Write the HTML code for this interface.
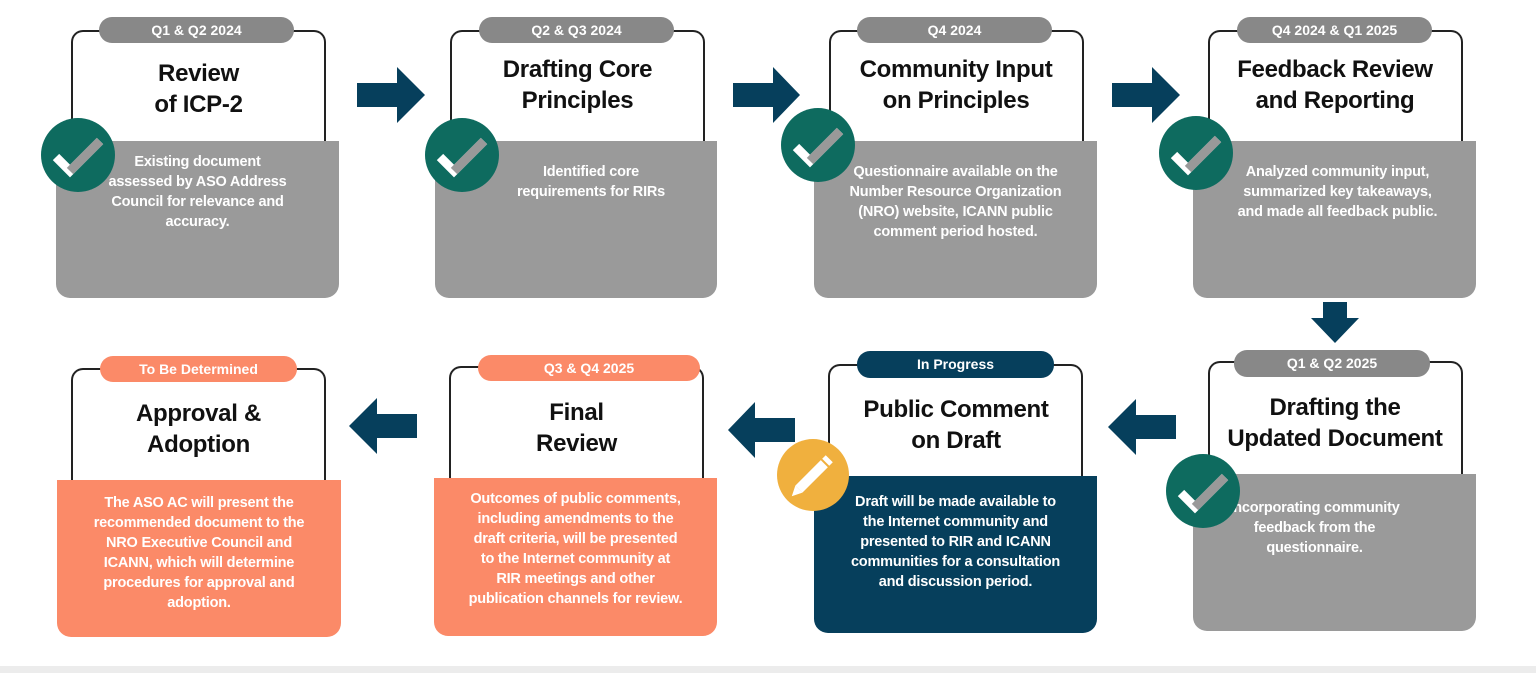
<!DOCTYPE html>
<html><head><meta charset="utf-8"><style>
*{margin:0;padding:0;box-sizing:border-box}
body{width:1536px;height:673px;background:#fff;position:relative;overflow:hidden;font-family:"Liberation Sans",sans-serif}
.a{position:absolute}
.frame{position:absolute;border:2px solid #222;border-bottom:none;border-radius:12px 12px 0 0}
.pill{position:absolute;height:26px;border-radius:13px;color:#fff;font-size:14px;font-weight:bold;text-align:center;line-height:26px}
.title{position:absolute;text-align:center;font-size:24px;font-weight:bold;line-height:31px;color:#111;letter-spacing:-0.3px}
.box{position:absolute;border-radius:0 0 14px 14px;color:#fff;font-size:14.5px;font-weight:bold;text-align:center;line-height:20px;white-space:nowrap;letter-spacing:-0.2px}
.g{background:#9a9a9a}.gp{background:#888}
.n{background:#063f5c}.s{background:#fb8a68}
</style></head><body>

<div class="frame" style="left:71px;top:30px;width:255px;height:112px"></div>
<div class="pill gp" style="left:99px;top:17px;width:195px">Q1 &amp; Q2 2024</div>
<div class="title" style="left:71px;top:58px;width:255px">Review<br>of ICP-2</div>
<div class="box g" style="left:56px;top:141px;width:283px;height:157px;padding:11px 0 0 0">Existing document<br>assessed by ASO Address<br>Council for relevance and<br>accuracy.</div>

<div class="frame" style="left:450px;top:30px;width:255px;height:112px"></div>
<div class="pill gp" style="left:479px;top:17px;width:195px">Q2 &amp; Q3 2024</div>
<div class="title" style="left:450px;top:54px;width:255px">Drafting Core<br>Principles</div>
<div class="box g" style="left:435px;top:141px;width:282px;height:157px;padding:21px 0 0 30px">Identified core<br>requirements for RIRs</div>

<div class="frame" style="left:829px;top:30px;width:255px;height:112px"></div>
<div class="pill gp" style="left:857px;top:17px;width:195px">Q4 2024</div>
<div class="title" style="left:820px;top:54px;width:272px">Community Input<br>on Principles</div>
<div class="box g" style="left:814px;top:141px;width:283px;height:157px;padding:21px 0 0 0">Questionnaire available on the<br>Number Resource Organization<br>(NRO) website, ICANN public<br>comment period hosted.</div>

<div class="frame" style="left:1208px;top:30px;width:255px;height:112px"></div>
<div class="pill gp" style="left:1237px;top:17px;width:195px">Q4 2024 &amp; Q1 2025</div>
<div class="title" style="left:1200px;top:54px;width:270px">Feedback Review<br>and Reporting</div>
<div class="box g" style="left:1193px;top:141px;width:283px;height:157px;padding:21px 0 0 6px">Analyzed community input,<br>summarized key takeaways,<br>and made all feedback public.</div>

<div class="frame" style="left:71px;top:368px;width:255px;height:113px"></div>
<div class="pill s" style="left:100px;top:356px;width:197px">To Be Determined</div>
<div class="title" style="left:71px;top:398px;width:255px">Approval &amp;<br>Adoption</div>
<div class="box s" style="left:57px;top:480px;width:284px;height:157px;padding:13px 0 0 0">The ASO AC will present the<br>recommended document to the<br>NRO Executive Council and<br>ICANN, which will determine<br>procedures for approval and<br>adoption.</div>

<div class="frame" style="left:449px;top:366px;width:255px;height:113px"></div>
<div class="pill s" style="left:478px;top:355px;width:222px">Q3 &amp; Q4 2025</div>
<div class="title" style="left:449px;top:397px;width:255px">Final<br>Review</div>
<div class="box s" style="left:434px;top:478px;width:283px;height:158px;padding:11px 0 0 0">Outcomes of public comments,<br>including amendments to the<br>draft criteria, will be presented<br>to the Internet community at<br>RIR meetings and other<br>publication channels for review.</div>

<div class="frame" style="left:828px;top:364px;width:255px;height:113px"></div>
<div class="pill n" style="left:857px;top:351px;width:197px;height:27px">In Progress</div>
<div class="title" style="left:820px;top:394px;width:272px">Public Comment<br>on Draft</div>
<div class="box n" style="left:814px;top:476px;width:283px;height:157px;padding:16px 0 0 0">Draft will be made available to<br>the Internet community and<br>presented to RIR and ICANN<br>communities for a consultation<br>and discussion period.</div>

<div class="frame" style="left:1208px;top:361px;width:255px;height:114px"></div>
<div class="pill gp" style="left:1234px;top:350px;width:196px;height:27px">Q1 &amp; Q2 2025</div>
<div class="title" style="left:1200px;top:392px;width:270px">Drafting the<br>Updated Document</div>
<div class="box g" style="left:1193px;top:474px;width:283px;height:157px;padding:24px 40px 0 0">Incorporating community<br>feedback from the<br>questionnaire.</div>

<svg class="a" style="left:0;top:0" width="1536" height="673">
<defs><g id="ck"><circle r="37" fill="#0e6b5f"/><polyline points="-22,2 -8,16 22,-14" fill="none" stroke="#fff" stroke-width="9"/><polyline points="-8,16 22,-14" fill="none" stroke="#999" stroke-width="9"/></g></defs>
<use href="#ck" x="78" y="155"/>
<use href="#ck" x="462" y="155"/>
<use href="#ck" x="818" y="145"/>
<use href="#ck" x="1196" y="153"/>
<use href="#ck" x="1203" y="491"/>
<circle cx="813" cy="475" r="36" fill="#f0b03e"/>
<g transform="translate(813,475) rotate(-45)"><rect x="-20" y="-5" width="36" height="10" fill="#fff"/><polygon points="-20,-5 -30,0 -20,5" fill="#fff"/><rect x="18" y="-5" width="5" height="10" fill="#fff"/></g>
<g fill="#063f5c">
<polygon points="357,83 397,83 397,67 425,95 397,123 397,107 357,107"/>
<polygon points="733,83 773,83 773,67 800,95 773,123 773,107 733,107"/>
<polygon points="1112,83 1152,83 1152,67 1180,95 1152,123 1152,107 1112,107"/>
<polygon points="1323,302 1347,302 1347,318 1359,318 1335,343 1311,318 1323,318"/>
<polygon points="417,414 377,414 377,398 349,426 377,454 377,438 417,438"/>
<polygon points="795,418 755,418 755,402 728,430 755,458 755,442 795,442"/>
<polygon points="1176,415 1136,415 1136,399 1108,427 1136,455 1136,439 1176,439"/>
</g>
<rect x="0" y="666" width="1536" height="7" fill="#ececec"/>
</svg>
</body></html>
